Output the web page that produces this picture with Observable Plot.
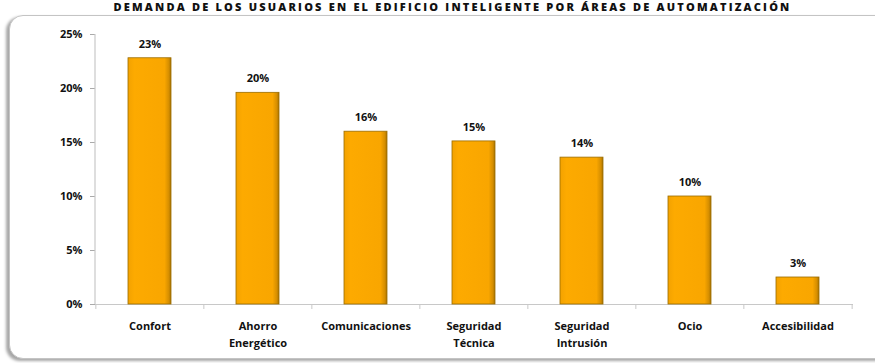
<!DOCTYPE html>
<html>
<head>
<meta charset="utf-8">
<script src="https://cdn.jsdelivr.net/npm/d3@7"></script>
<script src="https://cdn.jsdelivr.net/npm/@observablehq/plot@0.6"></script>
<style>
  html, body { margin: 0; padding: 0; background: #fff; overflow: hidden; }
  body { width: 875px; height: 363px; position: relative; font-family: "Open Sans", "Liberation Sans", sans-serif; }
  #title { position: absolute; left: 0; width: 905px; top: 1px; text-align: center; font-weight: 800; font-size: 11px; line-height: 12px; color: #111; letter-spacing: 2.2px; white-space: nowrap; }
  #box { position: absolute; left: 9px; top: 15px; width: 900px; height: 342px; border: 1.5px solid #c4c4c4; border-radius: 14px; box-shadow: -3px 2px 3px rgba(0,0,0,0.35); background: #fff; }
  #chart { position: absolute; left: 0; top: 0; }
</style>
</head>
<body>
<div id="title">DEMANDA DE LOS USUARIOS EN EL EDIFICIO INTELIGENTE POR ÁREAS DE AUTOMATIZACIÓN</div>
<div id="box"></div>
<div id="chart"></div>
<script>
const categories = ["Confort", "Ahorro\nEnergético", "Comunicaciones", "Seguridad\nTécnica", "Seguridad\nIntrusión", "Ocio", "Accesibilidad"];
const values = [22.8, 19.6, 16.0, 15.1, 13.6, 10.0, 2.5];
const valueLabels = ["23%", "20%", "16%", "15%", "14%", "10%", "3%"];
const yTicks = [0, 5, 10, 15, 20, 25];

const data = categories.map((c, i) => ({cat: c, value: values[i], label: valueLabels[i]}));

const W = 875, H = 363, ML = 95, MR = 22, MT = 34, MB = 59;
const step = (W - ML - MR) / categories.length;

const plot = Plot.plot({
  width: W,
  height: H,
  marginLeft: ML,
  marginRight: MR,
  marginTop: MT,
  marginBottom: MB,
  style: {background: "transparent", fontFamily: "'Open Sans', 'Liberation Sans', sans-serif", fontSize: "11px", fontWeight: "bold", color: "#111"},
  x: {domain: categories, paddingInner: 0.6, paddingOuter: 0.3, label: null},
  y: {domain: [0, 25], label: null},
  marks: [
    Plot.axisY({ticks: yTicks, tickFormat: d => d + "%", tickSize: 5, tickPadding: 8, stroke: "#aaa", fontSize: 11, fontWeight: "bold"}),
    Plot.axisX({tickSize: 0, tickPadding: 14, fontSize: 11, fontWeight: "bold", lineHeight: 1.5}),
    Plot.ruleY([0], {stroke: "#c8c8c8", strokeWidth: 1.2}),
    Plot.ruleX(categories, {x: d => d, dx: -step / 2, y1: 0, y2: 0, insetBottom: -5, stroke: "#c8c8c8"}),
    Plot.ruleX(categories.slice(-1), {x: d => d, dx: step / 2, y1: 0, y2: 0, insetBottom: -5, stroke: "#c8c8c8"}),
    Plot.barY(data, {x: "cat", y: "value", fill: "url(#barGrad)", stroke: "#9a6c00", strokeWidth: 0.8}),
    Plot.tickY(data, {x: "cat", y: "value", dy: 2.5, stroke: "url(#topGrad)", strokeWidth: 5, insetLeft: 1, insetRight: 1}),
    Plot.text(data, {x: "cat", y: "value", text: "label", dy: -14, fontSize: 11, fontWeight: "bold", fill: "#111"})
  ]
});

const svg = d3.select(plot);
const defs = svg.insert("defs", ":first-child");
const g = defs.append("linearGradient").attr("id", "barGrad").attr("x1", "0").attr("x2", "1").attr("y1", "0").attr("y2", "0");
g.append("stop").attr("offset", "0").attr("stop-color", "#f3a200");
g.append("stop").attr("offset", "0.15").attr("stop-color", "#fdaa00");
g.append("stop").attr("offset", "0.85").attr("stop-color", "#f9a600");
g.append("stop").attr("offset", "0.95").attr("stop-color", "#d58e00");
g.append("stop").attr("offset", "1").attr("stop-color", "#a87200");
const t = defs.append("linearGradient").attr("id", "topGrad").attr("x1", "0").attr("x2", "1").attr("y1", "0").attr("y2", "0");
t.append("stop").attr("offset", "0").attr("stop-color", "#f5d200");
t.append("stop").attr("offset", "0.5").attr("stop-color", "#fff200");
t.append("stop").attr("offset", "1").attr("stop-color", "#e0b800");

// y axis vertical line from the plot's own y scale
const ys = plot.scale("y");
svg.append("line")
  .attr("x1", ML).attr("x2", ML)
  .attr("y1", ys.range[1]).attr("y2", ys.range[0])
  .attr("stroke", "#c8c8c8").attr("stroke-width", 1.2);

document.getElementById("chart").appendChild(plot);
</script>
</body>
</html>
